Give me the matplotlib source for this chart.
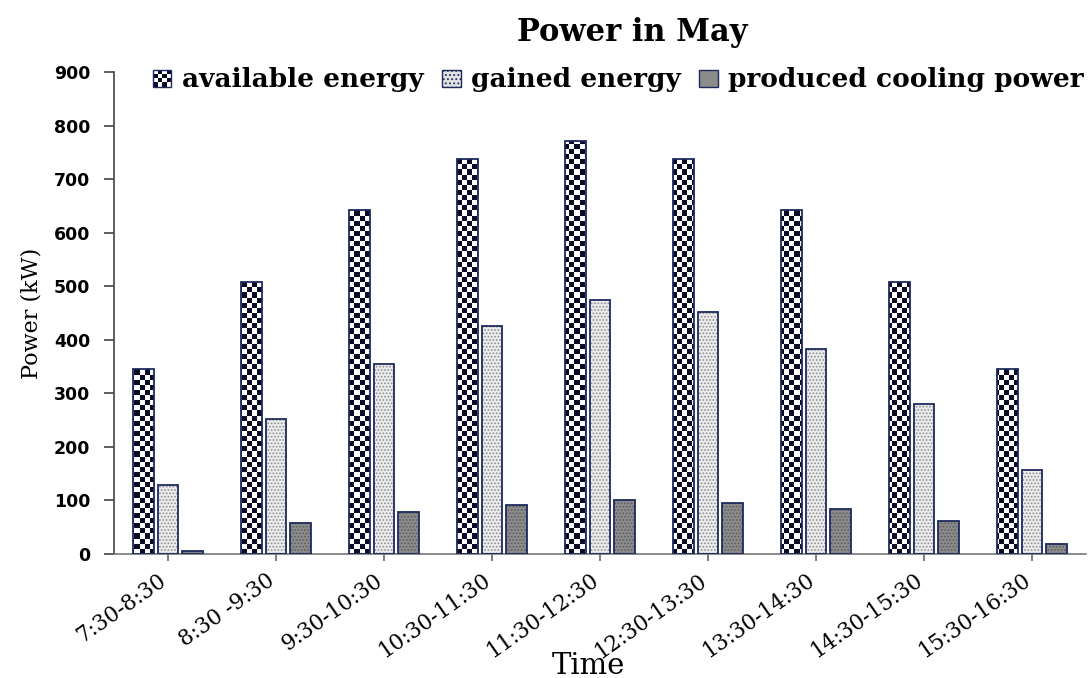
import numpy as np
import matplotlib
matplotlib.use("Agg")
import matplotlib.pyplot as plt
from matplotlib.colors import ListedColormap
from matplotlib.path import Path
from matplotlib.transforms import Affine2D, ScaledTranslation
from matplotlib.patches import Rectangle, Patch
from matplotlib.legend_handler import HandlerBase

# Hourly intervals and power values (kW)
time_slots = ["7:30-8:30", "8:30 -9:30", "9:30-10:30", "10:30-11:30", "11:30-12:30",
              "12:30-13:30", "13:30-14:30", "14:30-15:30", "15:30-16:30"]
available_energy = [345, 507, 643, 737, 771, 737, 643, 507, 345]
gained_energy = [128, 252, 355, 425, 475, 452, 383, 280, 157]
cooling_power = [5, 58, 79, 91, 100, 95, 84, 62, 18]
series_names = ["available energy", "gained energy", "produced cooling power"]
y_ticks = [0, 100, 200, 300, 400, 500, 600, 700, 800, 900]

NAVY = "#1d2a5e"
CHECK_DARK = "#0b0b26"
SERIF = "DejaVu Serif"

plt.rcParams["hatch.linewidth"] = 0.8

fig = plt.figure(figsize=(10.88, 6.78), dpi=100)
W, H = 1088, 678
ax = fig.add_axes([114 / W, 1 - 554 / H, 972 / W, 482 / H])

x = np.arange(len(time_slots))
bw = 0.19
off = 0.225

# available energy: white bars filled with a clipped checkerboard texture
avail = ax.bar(x - off, available_energy, bw, facecolor="white", edgecolor="none", zorder=2)
nx, ny = 190, 94
board = (np.add.outer(np.arange(ny), np.arange(nx)) % 2).astype(float)
im = ax.imshow(board, cmap=ListedColormap(["white", CHECK_DARK]), interpolation="nearest",
               extent=(-0.5, 8.5, 0, 900), origin="lower", aspect="auto", zorder=2.2)
rects = [Path.unit_rectangle().transformed(
    Affine2D().scale(b.get_width(), b.get_height()).translate(b.get_x(), b.get_y()))
    for b in avail]
im.set_clip_path(Path.make_compound_path(*rects), ax.transData)
ax.bar(x - off, available_energy, bw, fill=False, edgecolor=NAVY, linewidth=1.3, zorder=3)

# gained energy: light stippled bars
ax.bar(x, gained_energy, bw, facecolor="#ececec", edgecolor="#8e8e8e", hatch=".....",
       linewidth=0, zorder=2)
ax.bar(x, gained_energy, bw, fill=False, edgecolor=NAVY, linewidth=1.3, zorder=3)

# produced cooling power: dark stippled bars
ax.bar(x + off, cooling_power, bw, facecolor="#8c8c8c", edgecolor="#5c5c5c", hatch=".....",
       linewidth=0, zorder=2)
ax.bar(x + off, cooling_power, bw, fill=False, edgecolor=NAVY, linewidth=1.3, zorder=3)

ax.set_xlim(-0.5, len(time_slots) - 0.5)
ax.set_ylim(0, 900)

for s in ("top", "right"):
    ax.spines[s].set_visible(False)
ax.spines["left"].set_color("#444444")
ax.spines["bottom"].set_color("#777777")
ax.spines["left"].set_linewidth(1.2)
ax.spines["bottom"].set_linewidth(1.2)
ax.tick_params(axis="y", length=7, width=1.2, color="#444444", pad=10)
ax.tick_params(axis="x", length=5, width=1.2, color="#666666", pad=6)

ax.set_yticks(y_ticks)
ax.set_yticklabels([str(v) for v in y_ticks], fontsize=12.5, fontweight="bold",
                   family="DejaVu Sans")
ax.set_xticks(x)
ax.set_xticklabels(time_slots, rotation=35, ha="right", rotation_mode="anchor",
                   fontsize=15.5, family=SERIF)
# nudge the slanted labels so their ends sit just left of each tick
shift = ScaledTranslation(-10 / 100, 0, fig.dpi_scale_trans)
for lbl in ax.get_xticklabels():
    lbl.set_transform(lbl.get_transform() + shift)

ax.set_ylabel("Power (kW)", family=SERIF, fontsize=16, labelpad=8)
ax.set_xlabel("Time", family=SERIF, fontsize=21)
ax.xaxis.set_label_coords((588 - 114) / 972, (554 - 652) / 482)
fig.text(632 / W, 1 - 32 / H, "Power in May", family=SERIF, fontsize=22,
         fontweight="bold", ha="center", va="center")


class CheckerHandler(HandlerBase):
    def create_artists(self, legend, orig_handle, xdescent, ydescent, width, height,
                       fontsize, trans):
        n = 4
        x0, y0 = -xdescent, -ydescent
        arts = [Rectangle((x0, y0), width, height, facecolor="white", edgecolor="none",
                          transform=trans)]
        for i in range(n):
            for j in range(n):
                if (i + j) % 2 == 0:
                    arts.append(Rectangle((x0 + i * width / n, y0 + j * height / n),
                                          width / n, height / n, facecolor=CHECK_DARK,
                                          edgecolor="none", transform=trans))
        arts.append(Rectangle((x0, y0), width, height, fill=False, edgecolor=NAVY,
                              linewidth=1.0, transform=trans))
        return arts


h_avail = Patch(facecolor="white", edgecolor=NAVY)
h_gain = Patch(facecolor="#e2e2e2", edgecolor=NAVY, hatch="....", linewidth=1.0)
h_cool = Patch(facecolor="#8c8c8c", edgecolor=NAVY, linewidth=1.0)
fig.legend([h_avail, h_gain, h_cool], series_names, loc="center right",
           bbox_to_anchor=(1084 / W, 1 - 80 / H), ncol=3, frameon=False, borderpad=0,
           borderaxespad=0, handlelength=0.7, handleheight=0.62, handletextpad=0.4,
           columnspacing=0.7, handler_map={h_avail: CheckerHandler()},
           prop={"family": SERIF, "size": 19, "weight": "bold"})

fig.savefig("out.png", dpi=100)
